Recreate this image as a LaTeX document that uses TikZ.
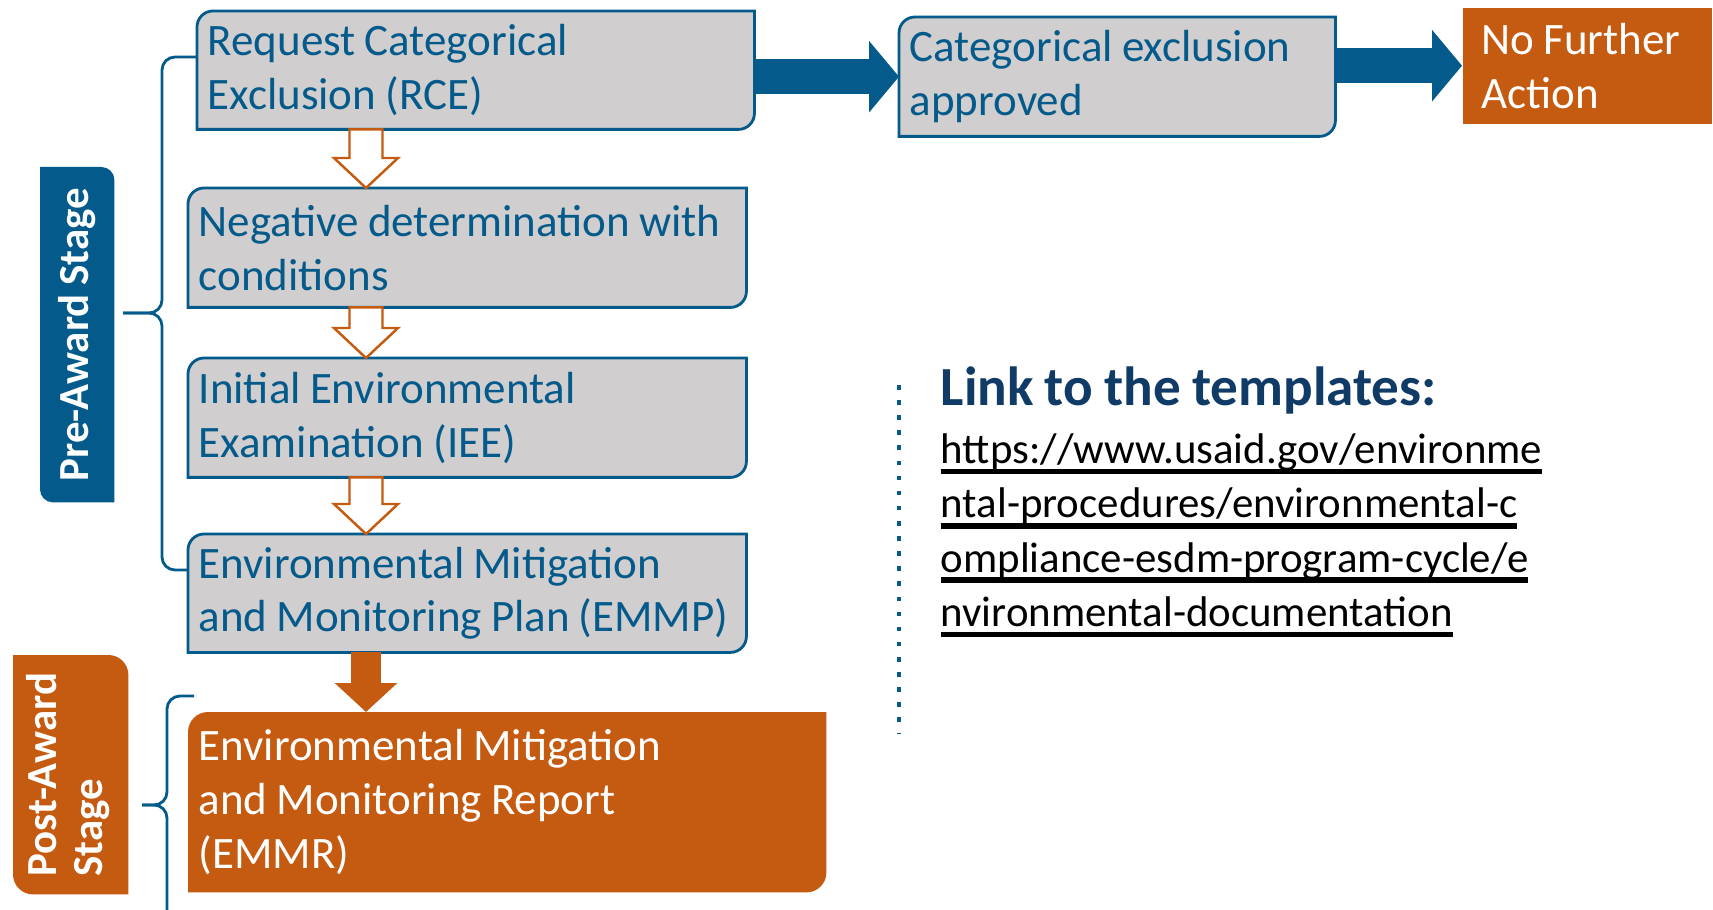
\documentclass[tikz,border=0pt]{standalone}
\usepackage{fontspec}
\setmainfont{Carlito}[WordSpace=0.9]
\usetikzlibrary{arrows.meta, positioning, calc, backgrounds}

\definecolor{ublue}{HTML}{045A8A}
\definecolor{unavy}{HTML}{0F3B66}
\definecolor{uorange}{HTML}{C55A11}
\definecolor{boxgrey}{HTML}{D0CECE}
\newcommand{\urlline}[1]{\setbox0\hbox{#1}\rlap{\rule[-3pt]{\wd0}{1.5pt}}\box0}

\begin{document}
\begin{tikzpicture}[
      box/.style={anchor=north west, inner xsep=0.1cm, inner ysep=0pt, align=flush left, text=ublue, font=\fontsize{12.8}{15.3}\selectfont},
      stage/.style={anchor=north west, inner sep=0pt, text=white, font=\fontsize{12.2}{13}\selectfont\bfseries},
      frame/.style={draw=ublue, line width=0.8pt, fill=boxgrey},
      brace/.style={draw=ublue, line width=0.8pt, rounded corners=0.13cm},
      bluearrow/.style={draw=ublue, line width=3.5mm, -{Triangle[length=3mm, width=7mm]}},
      fullarrow/.style={draw=uorange, line width=3mm, -{Triangle[length=2.9mm, width=6.1mm]}},
      openarrow/.style={draw=uorange, line width=0.7pt, fill=white}]

      \useasboundingbox (0,0) rectangle (17.13,-9.10);

      % the steps
      \node[box, text width=5.36cm, minimum height=1.17cm] (rce) at (1.97,-0.11) {Request Categorical\\Exclusion (RCE)};
      \node[box, text width=4.15cm, minimum height=1.18cm] (cea) at (8.99,-0.17) {Categorical exclusion\\approved};
      \node[box, text=white, fill=uorange, inner xsep=0.19cm, text width=2.11cm, minimum height=1.16cm] (nfa) at (14.62,-0.07) {No Further\\Action};
      \node[box, text width=5.37cm, minimum height=1.18cm] (neg) at (1.88,-1.88) {Negative determination with\\conditions};
      \node[box, text width=5.37cm, minimum height=1.18cm] (iee) at (1.88,-3.58) {Initial Environmental\\Examination (IEE)};
      \node[box, text width=5.37cm, minimum height=1.17cm] (emmp) at (1.88,-5.34) {Environmental Mitigation\\and Monitoring Plan (EMMP)};
      \node[box, text=white, text width=6.17cm, minimum height=1.79cm] (emmr) at (1.88,-7.12) {Environmental Mitigation\\and Monitoring Report\\(EMMR)};

      % stage labels
      \node[stage, minimum width=0.73cm, minimum height=3.34cm] (pre) at (0.40,-1.67) {\rotatebox{90}{Pre-Award Stage}};
      \node[stage, minimum width=1.14cm, minimum height=2.38cm] (post) at (0.13,-6.55) {\rotatebox{90}{\begin{tabular}{@{}l@{}}Post-Award\\Stage\end{tabular}}};

      \begin{scope}[on background layer]
        \foreach \n in {rce, cea, neg, iee, emmp}
          \draw[frame] (\n.south west) -- ([yshift=-0.16cm]\n.north west) arc[start angle=180, end angle=90, radius=0.16cm] -- (\n.north east) -- ([yshift=0.16cm]\n.south east) arc[start angle=0, end angle=-90, radius=0.16cm] -- cycle;
        \fill[uorange] (emmr.south west) -- ([yshift=-0.2cm]emmr.north west) arc[start angle=180, end angle=90, radius=0.2cm] -- (emmr.north east) -- ([yshift=0.2cm]emmr.south east) arc[start angle=0, end angle=-90, radius=0.2cm] -- cycle;
        \foreach \n/\c/\r in {pre/ublue/0.13, post/uorange/0.2}
          \fill[\c] (\n.north west) -- ([xshift=-\r cm]\n.north east) arc[start angle=90, end angle=0, radius=\r cm] -- (\n.south east) -- ([xshift=\r cm]\n.south west) arc[start angle=270, end angle=180, radius=\r cm] -- cycle;
      \end{scope}

      % arrows between the steps
      \coordinate (ax) at (3.66,0);
      \foreach \a/\b in {rce/neg, neg/iee, iee/emmp}
        \draw[openarrow] ($(\a.south -| ax)+(-0.165,0)$) -- ($(\b.north -| ax)+(-0.165,0.3)$) -- ($(\b.north -| ax)+(-0.32,0.3)$) -- (\b.north -| ax) -- ($(\b.north -| ax)+(0.32,0.3)$) -- ($(\b.north -| ax)+(0.165,0.3)$) -- ($(\a.south -| ax)+(0.165,0)$) -- cycle;
      \draw[fullarrow] (emmp.south -| ax) -- (emmr.north -| ax);
      \draw[bluearrow] (rce.east |- cea.west) -- (cea.west);
      \draw[bluearrow] (cea.east |- nfa.west) -- (nfa.west);

      % braces
      \coordinate (pretip) at (1.23,-3.13);
      \coordinate (posttip) at (1.42,-8.05);
      \draw[brace] ([yshift=-0.46cm]rce.north west) -| ([xshift=0.39cm]pretip) -- (pretip);
      \draw[brace] (pretip) -- ([xshift=0.39cm]pretip) |- ([yshift=-0.36cm]emmp.north west);
      \draw[brace] ([shift={(0.06,0.16)}]emmr.north west) -| ([xshift=0.25cm]posttip) -- (posttip);
      \draw[brace] (posttip) -- ([xshift=0.25cm]posttip) -- ++(0,-1.1);

      % link
      \draw[ublue, line width=1.3pt, dash pattern=on 1.3pt off 3pt] (8.99,-3.85) -- (8.99,-7.34);
      \node[anchor=base west, inner sep=0pt, text=unavy, font=\fontsize{15.7}{18}\selectfont\bfseries] (link) at (9.40,-4.06) {Link to the templates:};
      \node[below right=0.18cm and 0cm of link.south west, inner sep=0pt, align=left, font=\fontsize{12.2}{15.4}\selectfont] (url) {\urlline{https://www.usaid.gov/environme}\\\urlline{ntal-procedures/environmental-c}\\\urlline{ompliance-esdm-program-cycle/e}\\\urlline{nvironmental-documentation}};
\end{tikzpicture}
\end{document}
